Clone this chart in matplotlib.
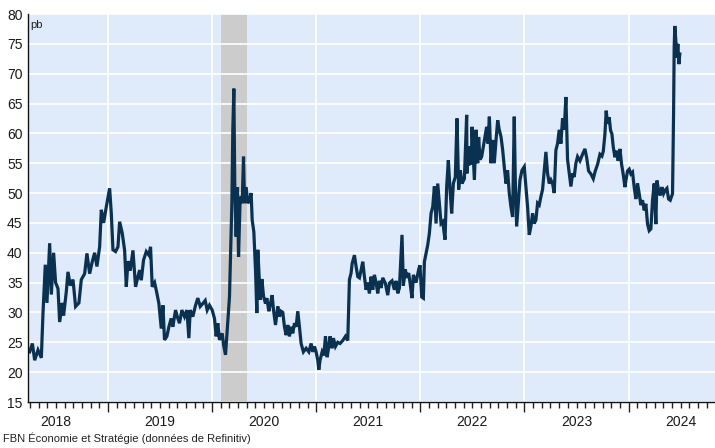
import matplotlib
matplotlib.use("Agg")
import matplotlib.pyplot as plt
import matplotlib.transforms as mtransforms
import numpy as np

plt.rcParams['font.family'] = ['Liberation Sans', 'DejaVu Sans']

# Time in decimal years
years = [
    2018.248, 2018.274, 2018.296, 2018.328, 2018.360, 2018.376, 2018.398, 2018.414, 2018.440, 2018.456,
    2018.478, 2018.497, 2018.520, 2018.536, 2018.561, 2018.574, 2018.600, 2018.616, 2018.638, 2018.664,
    2018.689, 2018.721, 2018.744, 2018.776, 2018.798, 2018.824, 2018.849, 2018.872, 2018.894, 2018.920,
    2018.936, 2018.958, 2018.984, 2019.016, 2019.032, 2019.048, 2019.073, 2019.096, 2019.112, 2019.137,
    2019.160, 2019.176, 2019.192, 2019.214, 2019.240, 2019.265, 2019.288, 2019.304, 2019.320, 2019.342,
    2019.368, 2019.393, 2019.409, 2019.425, 2019.448, 2019.470, 2019.489, 2019.512, 2019.528, 2019.543,
    2019.566, 2019.585, 2019.607, 2019.623, 2019.649, 2019.671, 2019.687, 2019.710, 2019.735, 2019.758,
    2019.777, 2019.790, 2019.815, 2019.841, 2019.863, 2019.886, 2019.911, 2019.934, 2019.953, 2019.975,
    2020.001, 2020.023, 2020.039, 2020.055, 2020.071, 2020.097, 2020.110, 2020.129, 2020.145, 2020.167,
    2020.180, 2020.190, 2020.199, 2020.209, 2020.218, 2020.231, 2020.244, 2020.254, 2020.270, 2020.289,
    2020.302, 2020.311, 2020.327, 2020.343, 2020.359, 2020.375, 2020.385, 2020.401, 2020.417, 2020.430,
    2020.439, 2020.449, 2020.462, 2020.478, 2020.494, 2020.513, 2020.526, 2020.545, 2020.561, 2020.577,
    2020.590, 2020.609, 2020.631, 2020.647, 2020.663, 2020.679, 2020.695, 2020.711, 2020.727, 2020.743,
    2020.759, 2020.775, 2020.791, 2020.807, 2020.823, 2020.839, 2020.855, 2020.877, 2020.903, 2020.929,
    2020.951, 2020.967, 2020.983, 2020.999, 2021.015, 2021.025, 2021.037, 2021.057, 2021.073, 2021.089,
    2021.105, 2021.121, 2021.133, 2021.153, 2021.165, 2021.185, 2021.207, 2021.229, 2021.255, 2021.281,
    2021.303, 2021.319, 2021.335, 2021.345, 2021.367, 2021.383, 2021.399, 2021.415, 2021.431, 2021.447,
    2021.463, 2021.479, 2021.495, 2021.511, 2021.527, 2021.543, 2021.559, 2021.575, 2021.591, 2021.607,
    2021.623, 2021.639, 2021.664, 2021.687, 2021.703, 2021.728, 2021.751, 2021.767, 2021.783, 2021.799,
    2021.824, 2021.837, 2021.856, 2021.869, 2021.888, 2021.901, 2021.920, 2021.933, 2021.959, 2021.984,
    2021.997, 2022.013, 2022.029, 2022.039, 2022.055, 2022.071, 2022.087, 2022.103, 2022.119, 2022.135,
    2022.151, 2022.167, 2022.183, 2022.199, 2022.215, 2022.237, 2022.253, 2022.269, 2022.285, 2022.301,
    2022.317, 2022.336, 2022.352, 2022.368, 2022.384, 2022.400, 2022.423, 2022.445, 2022.448, 2022.464,
    2022.477, 2022.490, 2022.496, 2022.509, 2022.519, 2022.535, 2022.551, 2022.560, 2022.573, 2022.589,
    2022.605, 2022.621, 2022.637, 2022.650, 2022.663, 2022.679, 2022.695, 2022.710, 2022.727, 2022.743,
    2022.758, 2022.775, 2022.791, 2022.806, 2022.823, 2022.838, 2022.854, 2022.870, 2022.886, 2022.902,
    2022.912, 2022.925, 2022.941, 2022.957, 2022.976, 2022.998, 2023.014, 2023.030, 2023.046, 2023.062,
    2023.078, 2023.094, 2023.110, 2023.126, 2023.142, 2023.158, 2023.174, 2023.190, 2023.206, 2023.222,
    2023.238, 2023.254, 2023.270, 2023.286, 2023.302, 2023.318, 2023.334, 2023.350, 2023.366, 2023.382,
    2023.398, 2023.414, 2023.430, 2023.446, 2023.462, 2023.478, 2023.494, 2023.510, 2023.533, 2023.558,
    2023.581, 2023.597, 2023.616, 2023.638, 2023.661, 2023.680, 2023.702, 2023.725, 2023.744, 2023.757,
    2023.773, 2023.785, 2023.798, 2023.814, 2023.827, 2023.840, 2023.853, 2023.869, 2023.885, 2023.900,
    2023.917, 2023.933, 2023.948, 2023.965, 2023.974, 2023.990, 2024.006, 2024.022, 2024.038, 2024.054,
    2024.070, 2024.086, 2024.102, 2024.118, 2024.134, 2024.150, 2024.166, 2024.182, 2024.198, 2024.214,
    2024.230, 2024.246, 2024.262, 2024.272, 2024.288, 2024.304, 2024.320, 2024.336, 2024.352, 2024.368,
    2024.384, 2024.400, 2024.422, 2024.432, 2024.438, 2024.444, 2024.454, 2024.464, 2024.473, 2024.483,
    2024.492,
]

spread_pb = [
    23.4, 24.8, 22.0, 23.7, 22.4, 29.9, 38.0, 31.6, 41.6, 33.0,
    40.0, 35.0, 34.0, 28.4, 31.6, 29.5, 33.5, 36.8, 34.5, 35.5,
    31.0, 31.6, 35.5, 36.5, 39.9, 36.5, 38.5, 40.0, 37.7, 41.0,
    47.2, 45.0, 47.7, 50.8, 46.6, 40.5, 40.2, 41.0, 45.2, 43.3,
    40.4, 34.3, 38.6, 37.0, 40.4, 34.3, 36.0, 37.1, 35.4, 38.8,
    40.2, 39.6, 41.0, 34.3, 35.0, 33.2, 31.5, 27.3, 31.2, 25.4,
    26.0, 27.6, 29.0, 27.6, 30.4, 29.0, 28.2, 30.4, 29.3, 30.4,
    25.7, 30.4, 29.3, 31.2, 32.4, 31.0, 31.5, 32.0, 30.4, 31.2,
    30.4, 29.0, 26.0, 28.2, 25.4, 26.5, 24.6, 22.9, 27.0, 32.6,
    41.6, 48.3, 60.6, 67.5, 51.1, 42.7, 51.0, 39.3, 49.4, 48.3,
    56.1, 48.3, 51.0, 48.3, 48.8, 50.0, 45.5, 43.5, 37.1, 29.9,
    40.5, 37.1, 32.1, 35.6, 32.7, 31.5, 32.4, 30.2, 31.5, 32.9,
    30.4, 27.9, 31.0, 29.3, 30.2, 30.0, 27.6, 26.2, 27.9, 26.0,
    27.6, 26.5, 28.2, 27.6, 30.2, 27.6, 24.8, 23.4, 24.0, 23.4,
    24.8, 23.4, 24.3, 23.4, 22.0, 20.4, 22.0, 23.4, 22.8, 26.0,
    22.5, 24.3, 26.0, 24.0, 25.7, 24.3, 25.0, 24.8, 25.3, 26.0,
    25.3, 35.5, 36.6, 38.2, 39.6, 37.7, 36.0, 35.8, 37.1, 38.5,
    36.0, 33.8, 35.0, 33.2, 36.0, 33.8, 36.3, 35.0, 33.2, 35.3,
    34.1, 35.8, 34.9, 32.9, 34.9, 35.3, 33.8, 35.3, 33.2, 34.1,
    43.0, 34.5, 37.2, 35.8, 36.6, 35.0, 32.4, 36.3, 35.0, 37.2,
    37.9, 32.6, 32.4, 38.5, 39.9, 41.3, 43.3, 46.6, 47.7, 51.1,
    44.9, 51.6, 48.3, 44.9, 45.2, 42.2, 51.1, 55.5, 50.6, 46.6,
    51.6, 52.7, 62.5, 50.6, 53.8, 51.6, 52.4, 63.1, 53.3, 57.8,
    54.9, 55.0, 61.1, 56.1, 52.2, 60.6, 55.0, 59.4, 55.6, 56.1,
    57.8, 59.4, 61.1, 58.3, 62.8, 55.0, 58.9, 55.0, 58.9, 62.2,
    60.6, 59.4, 57.2, 54.4, 51.6, 53.8, 50.0, 47.7, 46.0, 62.8,
    52.2, 44.4, 48.3, 52.2, 53.8, 54.4, 51.1, 47.7, 43.0, 44.4,
    46.6, 44.9, 45.5, 48.3, 48.0, 49.4, 50.6, 53.8, 56.9, 53.3,
    51.6, 52.2, 51.6, 50.0, 57.2, 58.3, 60.6, 58.3, 62.5, 60.6,
    66.1, 55.6, 53.3, 51.1, 53.3, 52.7, 55.0, 56.1, 55.4, 56.5,
    57.4, 56.0, 53.7, 53.2, 52.4, 53.7, 54.8, 56.5, 56.2, 57.0,
    59.9, 63.8, 61.6, 62.7, 60.5, 59.9, 57.7, 56.0, 57.1, 55.4,
    57.4, 54.8, 53.2, 51.0, 52.1, 53.7, 54.0, 53.2, 53.5, 51.0,
    49.0, 51.6, 49.9, 48.0, 48.8, 47.1, 48.2, 44.8, 43.7, 44.0,
    48.8, 51.6, 44.8, 52.1, 50.5, 49.6, 51.0, 49.9, 50.5, 50.8,
    49.0, 48.8, 49.9, 63.2, 74.4, 78.0, 75.5, 72.7, 75.0, 71.6,
    73.3,
]

year_labels = ["2018", "2019", "2020", "2021", "2022", "2023", "2024"]
recession_start = 2020.085
recession_end = 2020.337
y_ticks = list(range(15, 85, 5))

BG = '#dfeafb'
LINE = '#0b3150'

fig = plt.figure(figsize=(7.15, 4.48), dpi=100)
ax = fig.add_axes([28 / 715, 1 - 402 / 448, 1 - 28 / 715, (402 - 14) / 448])
ax.set_facecolor(BG)

ax.axvspan(recession_start, recession_end, color='#cccccc', zorder=0.2, lw=0)
ax.plot(years, spread_pb, color=LINE, lw=2.3, zorder=3, solid_joinstyle='miter')

ax.set_xlim(2018.232, 2024.83)
ax.set_ylim(15, 80)

# y axis
ax.set_yticks(y_ticks)
ax.set_yticklabels([str(v) for v in y_ticks])
ax.tick_params(axis='y', length=0, pad=4, labelsize=10, colors='#1a1a1a')

# x axis: year boundaries as major ticks, months as minor ticks
year_starts = [int(y) + 1 for y in year_labels[:-1]]
ax.set_xticks(year_starts)
ax.set_xticklabels([])
months = [int(y) + m / 12 for y in year_labels + ["2025"] for m in range(12)]
months = [m for m in months if 2018.232 < m < 2024.83 and m not in year_starts]
ax.set_xticks(months, minor=True)
ax.tick_params(axis='x', which='major', length=7, width=1, direction='out', color='#222222')
ax.tick_params(axis='x', which='minor', length=4, width=1, direction='out', color='#222222')

trans = mtransforms.blended_transform_factory(ax.transData, ax.transAxes)
for lab in year_labels:
    ax.text(int(lab) + 0.5, -0.033, lab, transform=trans, ha='center', va='top',
            fontsize=10, color='#1a1a1a')

ax.grid(True, which='major', axis='both', color='white', lw=1.2, zorder=1)
ax.set_axisbelow(False)
for gl in ax.get_xgridlines() + ax.get_ygridlines():
    gl.set_zorder(1)

for s in ['top', 'right']:
    ax.spines[s].set_visible(False)
for s in ['left', 'bottom']:
    ax.spines[s].set_color('#111111')
    ax.spines[s].set_linewidth(1.0)
    ax.spines[s].set_zorder(4)

ax.text(0.004, 0.985, 'pb', transform=ax.transAxes, ha='left', va='top', fontsize=8, color='#222222')
fig.text(3 / 715, 1 - 438 / 448, 'FBN Économie et Stratégie (données de Refinitiv)',
         ha='left', va='center', fontsize=8, color='#222222')

fig.savefig('out.png', dpi=100, facecolor='white')
